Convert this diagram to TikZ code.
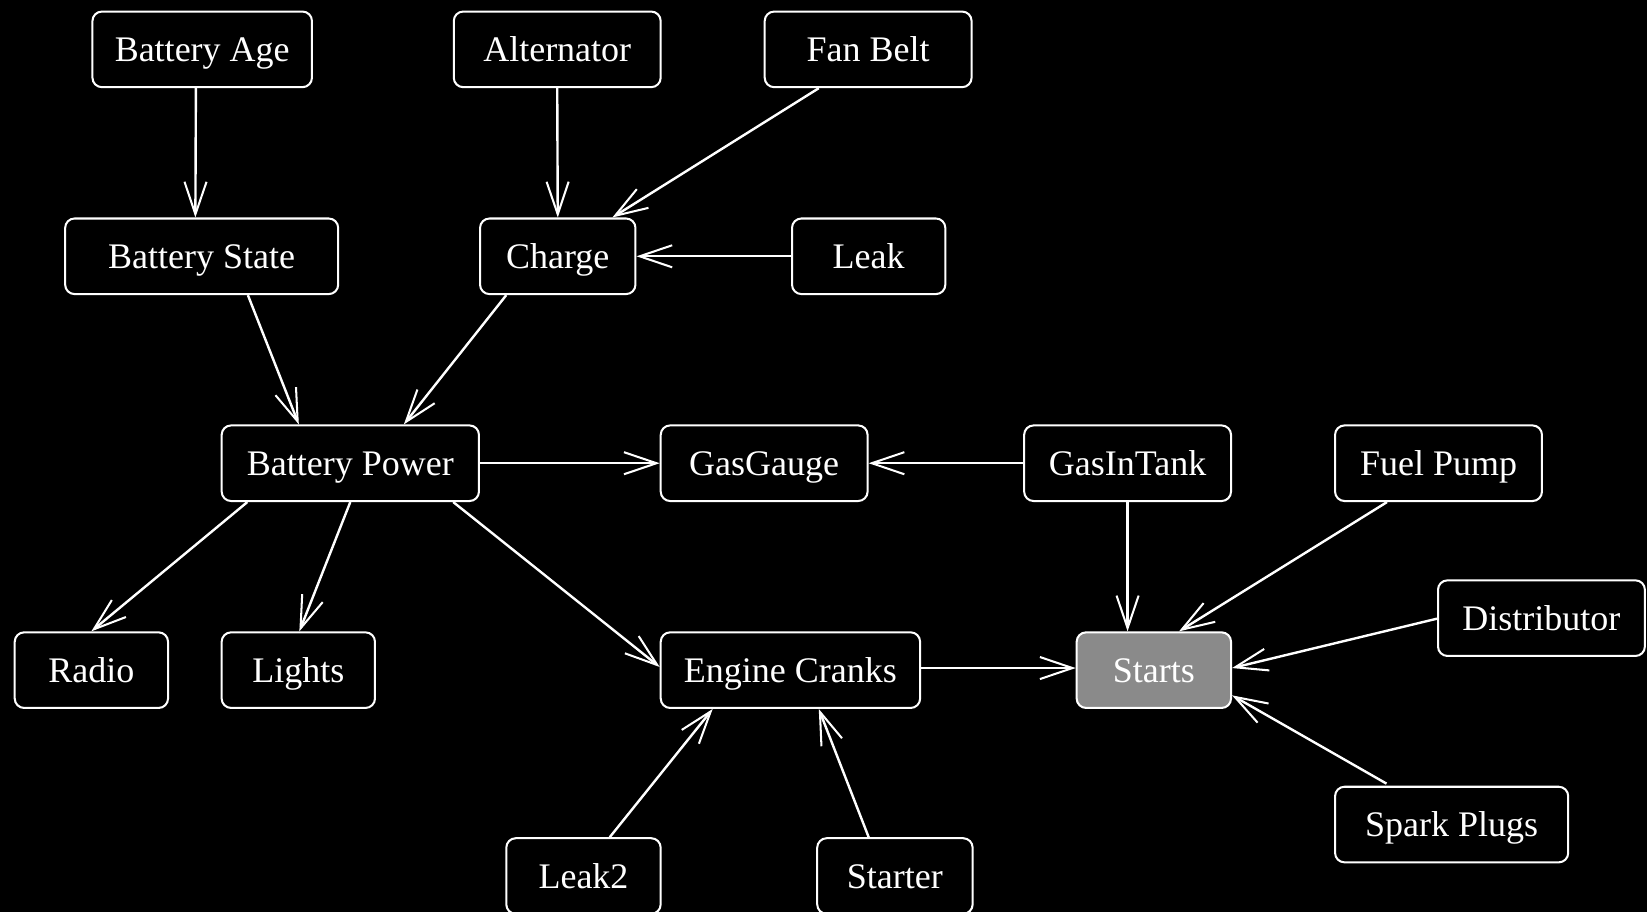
\documentclass[tikz,border=0pt]{standalone}
\usepackage{fontspec}
\setmainfont{Liberation Serif}
\usetikzlibrary{arrows.meta,calc}
\definecolor{startfill}{RGB}{138,138,138}
\begin{document}
\begin{tikzpicture}[x=0.02cm,y=-0.02cm,
  box/.style={draw=white,line width=1.1pt,rounded corners=0.18cm,text=white,
    minimum height=1.44cm,inner sep=0pt,text height=17pt,text depth=4pt,
    font=\fontsize{19.5}{22}\selectfont},
  arr/.style={draw=white,line width=1.3pt,
    -{Straight Barb[length=0.62cm,width=0.42cm,line width=1.1pt]}}]
\fill[black] (0,0) rectangle (1568,868);
\useasboundingbox (0,0) rectangle (1568,868);

% nodes
\node[box,minimum width=4.18cm] (bage) at (192.5,47) {Battery Age};
\node[box,minimum width=3.94cm] (alt) at (530.5,47) {Alternator};
\node[box,minimum width=3.94cm] (fan) at (826.5,47) {Fan Belt};
\node[box,minimum width=5.20cm] (bstate) at (192,244) {Battery State};
\node[box,minimum width=2.96cm] (charge) at (531,244) {Charge};
\node[box,minimum width=2.92cm] (leak) at (827,244) {Leak};
\node[box,minimum width=4.90cm] (bpower) at (333.5,441) {Battery Power};
\node[box,minimum width=3.94cm] (gauge) at (727.5,441) {GasGauge};
\node[box,minimum width=3.94cm] (tank) at (1073.5,441) {GasInTank};
\node[box,minimum width=3.94cm] (pump) at (1369.5,441) {Fuel Pump};
\node[box,minimum width=3.94cm] (dist) at (1467.5,588.5) {Distributor};
\node[box,minimum width=2.92cm] (radio) at (87,638) {Radio};
\node[box,minimum width=2.92cm] (lights) at (284,638) {Lights};
\node[box,minimum width=4.94cm] (cranks) at (752.5,638) {Engine Cranks};
\node[box,minimum width=2.94cm,fill=startfill] (starts) at (1098.5,638) {Starts};
\node[box,minimum width=4.44cm] (plugs) at (1382,785) {Spark Plugs};
\node[box,minimum width=2.94cm] (leaktwo) at (555.5,834) {Leak2};
\node[box,minimum width=2.96cm] (starter) at (852,834) {Starter};

% connectors
\draw[arr] ($(bage.south)+(-6,0)$) -- ($(bstate.north)+(-6,0)$);
\draw[arr] (alt.south) -- (charge.north);
\draw[arr] ($(fan.south)+(-47,0)$) -- ($(charge.north)+(52,0)$);
\draw[arr] (leak.west) -- (charge.east);
\draw[arr] ($(bstate.south)+(44,0)$) -- ($(bpower.north)+(-49,0)$);
\draw[arr] ($(charge.south)+(-49,0)$) -- ($(bpower.north)+(51,0)$);
\draw[arr] (bpower.east) -- (gauge.west);
\draw[arr] (tank.west) -- (gauge.east);
\draw[arr] ($(bpower.south)+(-98,0)$) -- (radio.north);
\draw[arr] (bpower.south) -- ($(lights.north)+(1,0)$);
\draw[arr] ($(bpower.south)+(98,0)$) -- ($(cranks.west)+(0,-3)$);
\draw[arr] ($(cranks.east)+(0,-2)$) -- ($(starts.west)+(0,-2)$);
\draw[arr] (tank.south) -- ($(starts.north)+(-25,0)$);
\draw[arr] ($(pump.south)+(-49,0)$) -- ($(starts.north)+(24,0)$);
\draw[arr] ($(dist.west)+(0,0.5)$) -- ($(starts.east)+(0,-2)$);
\draw[arr] ($(plugs.north)+(-62,-2)$) -- ($(starts.east)+(0,24)$);
\draw[arr] ($(leaktwo.north)+(25,0)$) -- ($(cranks.south)+(-74,0)$);
\draw[arr] ($(starter.north)+(-25,0)$) -- ($(cranks.south)+(27,0)$);
\end{tikzpicture}
\end{document}
